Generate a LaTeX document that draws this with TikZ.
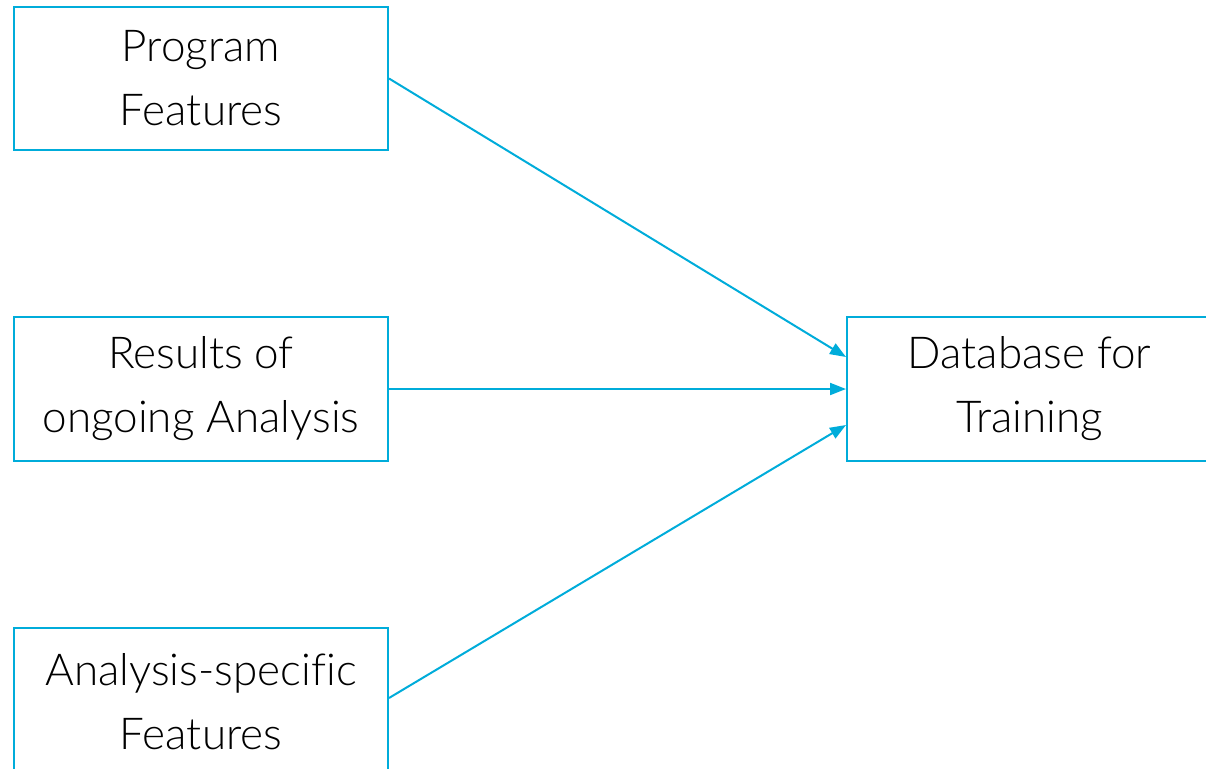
\documentclass[tikz,border=0pt]{standalone}
\usepackage{fontspec}
\setmainfont{Lato}[UprightFont=* Light, Ligatures=NoCommon]
\usetikzlibrary{arrows.meta,calc}
\definecolor{boxcyan}{RGB}{0,172,218}
\tikzset{
  box/.style={draw=boxcyan, line width=2pt, rectangle, align=center, inner sep=0pt,
    font=\fontsize{44}{64}\selectfont, text=black},
  conn/.style={draw=boxcyan, line width=2pt, -{Triangle[length=16pt,width=12pt]}}
}
\begin{document}
\begin{tikzpicture}[x=1pt,y=-1pt]
\useasboundingbox (0,0) rectangle (1206,768);
\clip (0,0) rectangle (1206,768);
\node[box, minimum width=374pt, minimum height=143pt] (pf) at (201,78.5) {Program\\Features};
\node[box, minimum width=374pt, minimum height=144pt] (ro) at (201,389) {Results of\\ongoing Analysis};
\node[box, minimum width=374pt, minimum height=147pt] (af) at (201,701.5) {Analysis-specific\\Features};
\node[box, minimum width=365pt, minimum height=144pt] (db) at (1029.5,389) {Database for\\Training};
\draw[conn] (pf.east) -- ($(db.west)+(0,-32)$);
\draw[conn] (ro.east) -- (db.west);
\draw[conn] ($(af.east)+(0,-3.5)$) -- ($(db.west)+(0,36)$);
\end{tikzpicture}
\end{document}
